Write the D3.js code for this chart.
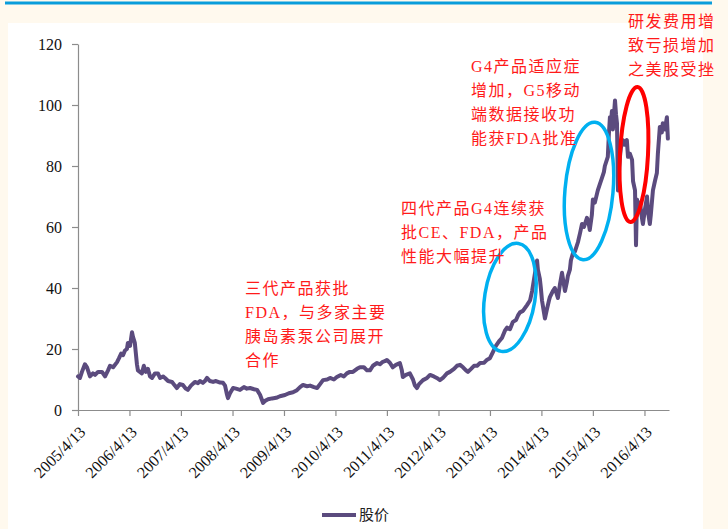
<!DOCTYPE html>
<html>
<head>
<meta charset="utf-8">
<script src="https://cdn.jsdelivr.net/npm/d3@7"></script>
<style>
  html, body { margin: 0; padding: 0; background: #FFF9EE; }
  svg { display: block; }
</style>
</head>
<body>
<svg id="chart" width="728" height="529"></svg>
<script>
// Share price series (USD), sampled dates and closing levels
const dates = [
  "2005-04-13","2005-04-27","2005-05-11","2005-06-01","2005-06-16","2005-07-07","2005-07-28","2005-08-12",
  "2005-09-02","2005-09-30","2005-10-22","2005-11-12","2005-11-26","2005-12-18","2006-01-15","2006-01-29",
  "2006-02-13","2006-02-27","2006-03-12","2006-03-26","2006-04-02","2006-04-17","2006-05-01","2006-05-08",
  "2006-05-21","2006-06-05","2006-06-12","2006-06-26","2006-07-10","2006-07-24","2006-08-07","2006-08-22",
  "2006-09-06","2006-09-20","2006-10-11","2006-11-01","2006-11-16","2006-12-07","2006-12-21","2007-01-12",
  "2007-02-09","2007-03-01","2007-03-15","2007-04-06","2007-04-27","2007-05-18","2007-06-01","2007-06-23",
  "2007-07-21","2007-08-12","2007-08-26","2007-09-16","2007-09-30","2007-10-15","2007-11-05","2007-11-27",
  "2007-12-18","2008-01-16","2008-02-06","2008-02-20","2008-03-05","2008-03-12","2008-03-26","2008-04-17",
  "2008-05-08","2008-06-05","2008-07-03","2008-07-24","2008-08-15","2008-09-13","2008-10-04","2008-10-25",
  "2008-11-16","2008-11-30","2008-12-21","2009-01-19","2009-02-17","2009-03-15","2009-04-20","2009-05-18",
  "2009-06-16","2009-07-14","2009-08-05","2009-08-26","2009-09-24","2009-10-15","2009-11-12","2009-12-04",
  "2009-12-25","2010-01-15","2010-02-13","2010-03-06","2010-04-02","2010-04-23","2010-05-21","2010-06-12",
  "2010-07-03","2010-07-24","2010-08-15","2010-09-13","2010-10-04","2010-11-01","2010-11-23","2010-12-14",
  "2011-01-04","2011-02-02","2011-02-23","2011-03-15","2011-03-29","2011-04-13","2011-05-04","2011-05-25",
  "2011-06-16","2011-07-14","2011-07-28","2011-08-04","2011-08-26","2011-09-23","2011-10-15","2011-10-29",
  "2011-11-12","2011-11-27","2011-12-25","2012-01-23","2012-02-13","2012-03-11","2012-04-01","2012-04-23",
  "2012-05-14","2012-06-12","2012-07-03","2012-08-01","2012-08-22","2012-09-13","2012-10-04","2012-10-25",
  "2012-11-08","2012-11-30","2012-12-21","2013-01-12","2013-02-02","2013-03-03","2013-03-24","2013-04-13",
  "2013-05-04","2013-05-25","2013-06-16","2013-07-07","2013-07-28","2013-08-12","2013-09-02","2013-09-23",
  "2013-10-15","2013-10-29","2013-11-12","2013-12-03","2013-12-18","2014-01-01","2014-01-23","2014-02-06",
  "2014-02-20","2014-03-06","2014-03-13","2014-03-19","2014-04-02","2014-04-09","2014-04-17","2014-05-01",
  "2014-05-08","2014-05-22","2014-06-06","2014-06-12","2014-07-03","2014-07-17","2014-07-31","2014-08-08",
  "2014-08-22","2014-09-06","2014-09-20","2014-09-27","2014-10-11","2014-10-18","2014-11-01","2014-11-08",
  "2014-11-23","2014-12-07","2014-12-28","2015-01-12","2015-01-26","2015-02-09","2015-03-02","2015-03-15",
  "2015-03-22","2015-04-06","2015-04-13","2015-04-27","2015-05-18","2015-06-01","2015-06-16","2015-06-30",
  "2015-07-07","2015-07-21","2015-07-28","2015-08-04","2015-08-12","2015-08-19","2015-08-26","2015-09-02",
  "2015-09-10","2015-09-17","2015-09-24","2015-10-01","2015-10-08","2015-10-15","2015-10-22","2015-10-29",
  "2015-11-12","2015-11-26","2015-12-10","2015-12-18","2016-01-01","2016-01-16","2016-01-23","2016-02-06",
  "2016-02-13","2016-02-20","2016-02-27","2016-03-12","2016-03-26","2016-04-02","2016-04-17","2016-05-01",
  "2016-05-08","2016-05-21","2016-05-28","2016-06-12","2016-06-26","2016-07-10","2016-07-17","2016-07-31",
  "2016-08-14","2016-08-21","2016-09-05","2016-09-19","2016-09-26"
];
const prices = [
  11, 10.5, 12.5, 15, 14, 11, 12, 11.5,
  12.5, 12.5, 11, 13, 14.5, 14, 15.7, 17,
  18.5, 18, 19.5, 20, 22, 21, 25.5, 24,
  22, 15, 13, 12.5, 12, 14.5, 12.5, 13.5,
  11, 10.5, 12, 12, 10.5, 11, 10.5, 9.5,
  9.2, 8, 7.2, 8.5, 8.2, 7, 6.6, 8,
  9.2, 8.8, 9.5, 8.9, 9.5, 10.5, 9.5, 9.2,
  9.5, 9, 8.9, 8, 5, 3.9, 5.5, 7.2,
  7, 6.6, 7.5, 7, 7.2, 6.8, 6.6, 5,
  2.3, 3, 3.5, 3.8, 4, 4.5, 4.9, 5.5,
  5.8, 6.5, 7.5, 8.2, 7.8, 8, 7.5, 7.2,
  8.5, 9.8, 10, 10.5, 10, 10.8, 11.5, 11,
  12, 12.5, 12.5, 13.5, 14, 14, 13, 13,
  14.5, 15.4, 15, 15.8, 16, 16.4, 15.5, 14,
  14.8, 15.4, 13, 10.8, 11.5, 12, 10, 8,
  7.2, 8.5, 9.8, 10.5, 11.5, 11, 10.5, 9.8,
  10.5, 12, 12.5, 13.5, 14.5, 14.8, 14, 13,
  12.5, 13.5, 14.5, 14.5, 15.4, 15.5, 16.5, 17,
  19, 21, 22.5, 23.6, 26, 27, 26.5, 28.9,
  29.5, 31, 32, 32.5, 33.5, 34.4, 36, 39,
  43, 47, 49, 46, 43, 40, 36, 32,
  30, 33, 36, 37, 39, 40, 38, 36.7,
  41, 45, 41, 39, 42, 44, 46, 49,
  51.5, 52, 55, 58, 61, 60, 63, 61,
  59, 64, 69, 68, 72, 74, 76, 78,
  80, 82, 83, 90, 96, 94, 98, 92,
  97, 101.5, 97, 94, 72, 78, 83, 86,
  88.5, 87, 88.5, 83, 84, 82, 75, 72,
  54, 69, 66, 68, 63, 61, 66, 70,
  65, 61, 64, 72, 75, 77.7, 84, 92.8,
  91, 94, 92, 96, 89
];

const seriesName = "股价";
const xDomain = ["2005-04-13", "2016-10-04"];
const yTicks = [0, 20, 40, 60, 80, 100, 120];
const tickDates = ["2005-04-13","2006-04-13","2007-04-13","2008-04-13","2009-04-13","2010-04-13",
                   "2011-04-13","2012-04-13","2013-04-13","2014-04-13","2015-04-13","2016-04-13"];
const tickLabels = ["2005/4/13","2006/4/13","2007/4/13","2008/4/13","2009/4/13","2010/4/13",
                    "2011/4/13","2012/4/13","2013/4/13","2014/4/13","2015/4/13","2016/4/13"];

// Event notes (text lines)
const noteTexts = [
  ["三代产品获批", "FDA，与多家主要", "胰岛素泵公司展开", "合作"],
  ["四代产品G4连续获", "批CE、FDA，产品", "性能大幅提升"],
  ["G4产品适应症", "增加，G5移动", "端数据接收功", "能获FDA批准"],
  ["研发费用增", "致亏损增加", "之美股受挫"]
];

// Highlighted periods: date span and price span
const highlightStart = ["2013-03-07", "2014-09-27", "2015-10-22"];
const highlightEnd   = ["2014-02-27", "2015-09-03", "2016-05-08"];
const highlightLow   = [19, 49.2, 61.6];
const highlightHigh  = [54.8, 94.4, 105.9];
const highlightColor = ["#00B0F0", "#00B0F0", "#FF0000"];
const highlightTilt  = [9, 5, 3];

const parse = d3.timeParse("%Y-%m-%d");
const series = dates.map((d, i) => ({ date: parse(d), value: prices[i] }));

const svg = d3.select("#chart");
const W = 728, H = 529;
const plot = { left: 78, right: 669, top: 44, bottom: 410 };

// page decoration: top rule and white panel
svg.append("rect").attr("x", 0).attr("y", 0).attr("width", W).attr("height", H).attr("fill", "#FFF9EE");
svg.append("rect").attr("x", 8).attr("y", 23).attr("width", 695).attr("height", H - 23).attr("fill", "#FFFFFF");
svg.append("line").attr("x1", 5).attr("x2", 712).attr("y1", 3).attr("y2", 3)
  .attr("stroke", "#0A9DDB").attr("stroke-width", 3);

const x = d3.scaleTime().domain(xDomain.map(parse)).range([plot.left, plot.right]);
const y = d3.scaleLinear().domain([0, 120]).range([plot.bottom, plot.top]);

const axisColor = "#8C8C8C";
const tickFont = "'Liberation Serif', 'Times New Roman', serif";

// Y axis
const yAxis = svg.append("g").attr("transform", `translate(${plot.left},0)`)
  .call(d3.axisLeft(y).tickValues(yTicks).tickSize(6).tickSizeOuter(0).tickPadding(10));
yAxis.select(".domain").attr("stroke", axisColor).attr("stroke-width", 1.2);
yAxis.selectAll(".tick line").attr("stroke", axisColor).attr("stroke-width", 1.2);
yAxis.selectAll(".tick text").attr("font-family", tickFont).attr("font-size", 16).attr("fill", "#111");

// X axis
const xAxis = svg.append("g").attr("transform", `translate(0,${plot.bottom})`)
  .call(d3.axisBottom(x).tickValues(tickDates.map(parse)).tickFormat((d, i) => tickLabels[i])
    .tickSize(6).tickSizeOuter(0));
xAxis.select(".domain").attr("stroke", axisColor).attr("stroke-width", 1.2);
xAxis.selectAll(".tick line").attr("stroke", axisColor).attr("stroke-width", 1.2);
xAxis.selectAll(".tick text")
  .attr("font-family", tickFont).attr("font-size", 16).attr("fill", "#111")
  .attr("x", 0).attr("y", 0).attr("dy", 0)
  .attr("text-anchor", "end")
  .attr("transform", "translate(8,23) rotate(-45)");

// price line
const line = d3.line().x(d => x(d.date)).y(d => y(d.value));
svg.append("path").datum(series)
  .attr("d", line)
  .attr("fill", "none")
  .attr("stroke", "#5B4B7E")
  .attr("stroke-width", 4)
  .attr("stroke-linejoin", "round")
  .attr("stroke-linecap", "round");

// highlight ellipses
highlightStart.forEach((s, i) => {
  const x0 = x(parse(s)), x1 = x(parse(highlightEnd[i]));
  const y0 = y(highlightHigh[i]), y1 = y(highlightLow[i]);
  const cx = (x0 + x1) / 2, cy = (y0 + y1) / 2;
  svg.append("ellipse")
    .attr("cx", cx).attr("cy", cy)
    .attr("rx", (x1 - x0) / 2).attr("ry", (y1 - y0) / 2)
    .attr("transform", `rotate(${highlightTilt[i]},${cx},${cy})`)
    .attr("fill", "none")
    .attr("stroke", highlightColor[i])
    .attr("stroke-width", i === 2 ? 4 : 3.5);
});

// notes
const notePos = [[245, 294], [401, 214], [471, 72], [628, 27]];
const noteFont = "'Liberation Serif', 'Noto Sans CJK SC', serif";
noteTexts.forEach((lines, i) => {
  const t = svg.append("text")
    .attr("x", notePos[i][0]).attr("y", notePos[i][1])
    .attr("font-family", noteFont)
    .attr("font-size", 16)
    .attr("letter-spacing", 1.5)
    .attr("fill", "#FF1A1A");
  lines.forEach((ln, j) => {
    t.append("tspan").attr("x", notePos[i][0]).attr("dy", j === 0 ? 0 : 24).text(ln);
  });
});

// legend
const lg = svg.append("g").attr("transform", "translate(322,515)");
lg.append("line").attr("x1", 0).attr("x2", 34).attr("y1", 0).attr("y2", 0)
  .attr("stroke", "#5B4B7E").attr("stroke-width", 4);
lg.append("text").attr("x", 37).attr("y", 0).attr("dy", "0.35em")
  .attr("font-family", noteFont).attr("font-size", 15).attr("fill", "#222")
  .text(seriesName);
</script>
</body>
</html>
